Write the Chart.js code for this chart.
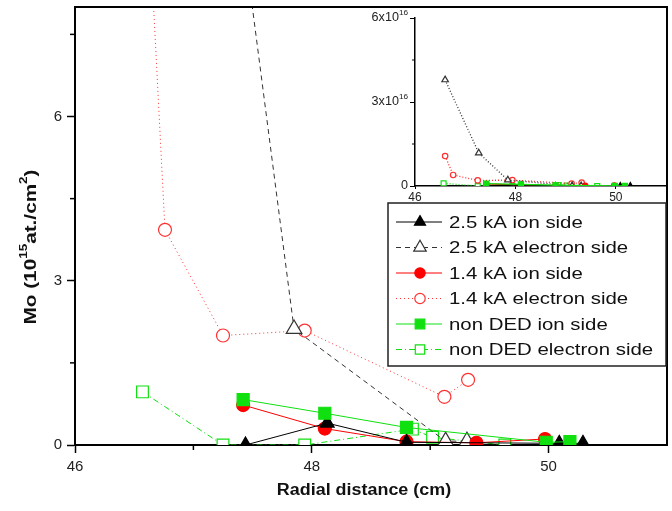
<!DOCTYPE html>
<html>
<head>
<meta charset="utf-8">
<script src="https://cdn.jsdelivr.net/npm/chart.js@4.4.1/dist/chart.umd.min.js"></script>
<style>
  html, body { margin: 0; padding: 0; background: #fff; }
  #wrap { position: relative; width: 672px; height: 511px; }
  #main { position: absolute; left: 0; top: 0; }
  #inset { position: absolute; left: 350px; top: 0; }
</style>
</head>
<body>
<div id="wrap">
  <canvas id="main" width="672" height="511"></canvas>
  <canvas id="inset" width="322" height="203"></canvas>
</div>
<script>
// axis ticks
const xTicks = [46, 48, 50];
const xMinor = [47, 49];
const yTicks = [0, 3, 6];
const yMinor = [1.5, 4.5, 7.5];
const insetXTicks = [46, 48, 50];
const insetYTicks = [0, 3, 6];
const insetYMinor = [1.5, 4.5];

const labels = ['2.5 kA ion side', '2.5 kA electron side', '1.4 kA ion side',
  '1.4 kA electron side', 'non DED ion side', 'non DED electron side'];

// values in 10^15 at./cm^2
const ion25X = [47.44, 48.13, 48.80, 50.09, 50.29];
const ion25Y = [0.0, 0.40, 0.05, 0.03, 0.03];
const el25X = [46.60, 47.27, 47.85, 49.13, 49.31];
const el25Y = [37.9, 11.8, 2.12, 0.07, 0.07];
const ion14X = [47.42, 48.11, 48.80, 49.39, 49.97];
const ion14Y = [0.73, 0.30, 0.06, 0.04, 0.11];
const el14X = [46.60, 46.76, 47.25, 47.94, 49.12, 49.32];
const el14Y = [10.7, 3.93, 2.00, 2.09, 0.88, 1.19];
const ionNX = [47.42, 48.11, 48.80, 49.98, 50.18];
const ionNY = [0.83, 0.58, 0.32, 0.05, 0.06];
const elNX = [46.57, 47.25, 47.94, 48.85, 49.02, 49.63];
const elNY = [0.97, 0.0, 0.0, 0.29, 0.14, 0.0];

const series = [
  { x: ion25X, y: ion25Y }, { x: el25X, y: el25Y },
  { x: ion14X, y: ion14Y }, { x: el14X, y: el14Y },
  { x: ionNX, y: ionNY }, { x: elNX, y: elNY }
];

const GREEN = '#10e010';
const styles = [
  { color: '#000', dash: [], ps: 'triangle', fill: '#000', r: 8, order: 1 },
  { color: '#333', dash: [5, 4], ps: 'triangle', fill: '#fff', r: 9, order: 3 },
  { color: '#ff0000', dash: [], ps: 'circle', fill: '#ff0000', r: 6.5, order: 2 },
  { color: '#ff3030', dash: [1, 3], ps: 'circle', fill: '#fff', r: 6.5, order: 4 },
  { color: GREEN, dash: [], ps: 'rect', fill: GREEN, r: 8.5, order: 0 },
  { color: GREEN, dash: [6, 3, 1, 3], ps: 'rect', fill: '#fff', r: 8.3, order: 5 }
];
const insetDash = [[], [1, 2], [], [1, 2], [], [1, 2]];

const FONT = '"Liberation Sans", Arial, sans-serif';

function makeDatasets(div, small) {
  return series.map((s, i) => {
    const st = styles[i];
    return {
      label: labels[i],
      data: s.x.map((v, j) => ({ x: v, y: s.y[j] / div })),
      showLine: true,
      borderColor: st.color,
      borderWidth: small ? 1.3 : 1,
      borderDash: small ? insetDash[i] : st.dash,
      pointStyle: st.ps,
      pointRadius: small ? st.r * 0.42 : st.r,
      pointBackgroundColor: st.fill,
      pointBorderColor: st.color,
      pointBorderWidth: 1.2,
      order: st.order
    };
  });
}

// draws text with optional superscripts, horizontally stretched by sx
function richText(ctx, parts, size, bold, sx, cx, cy, align) {
  const w = bold ? 'bold ' : '';
  let total = 0;
  parts.forEach(p => {
    ctx.font = w + (p.sup ? size * 0.65 : size) + 'px ' + FONT;
    p.w = ctx.measureText(p.t).width;
    total += p.w;
  });
  ctx.save();
  ctx.translate(cx, cy);
  ctx.scale(sx, 1);
  ctx.textBaseline = 'middle';
  ctx.textAlign = 'left';
  let x = align === 'right' ? -total : align === 'left' ? 0 : -total / 2;
  parts.forEach(p => {
    ctx.font = w + (p.sup ? size * 0.65 : size) + 'px ' + FONT;
    ctx.fillText(p.t, x, p.sup ? -size * 0.42 : 0);
    x += p.w;
  });
  ctx.restore();
}

const mainPlugin = {
  id: 'mainDeco',
  afterDraw(chart) {
    const { ctx, chartArea: a } = chart;
    const sx = chart.scales.x, sy = chart.scales.y;
    ctx.save();
    ctx.strokeStyle = '#000';
    ctx.lineWidth = 2;
    ctx.beginPath();
    ctx.moveTo(a.left, a.top);
    ctx.lineTo(a.right, a.top);
    ctx.lineTo(a.right, a.bottom);
    ctx.stroke();

    ctx.lineWidth = 1.5;
    xMinor.forEach(v => {
      const p = sx.getPixelForValue(v);
      ctx.beginPath(); ctx.moveTo(p, a.bottom); ctx.lineTo(p, a.bottom + 5); ctx.stroke();
    });
    yMinor.forEach(v => {
      const p = sy.getPixelForValue(v);
      ctx.beginPath(); ctx.moveTo(a.left, p); ctx.lineTo(a.left - 5, p); ctx.stroke();
    });

    // axis titles
    ctx.fillStyle = '#111';
    richText(ctx, [{ t: 'Radial distance (cm)' }], 16, true, 1.12, 364, 491, 'center');
    ctx.save();
    ctx.translate(31, 247);
    ctx.rotate(-Math.PI / 2);
    richText(ctx, [{ t: 'Mo (10' }, { t: '15', sup: true }, { t: 'at./cm' }, { t: '2', sup: true }, { t: ')' }],
      17, true, 1.22, 0, 0, 'center');
    ctx.restore();

    // legend
    const lx = 388, ly = 203, lw = 278, lh = 163;
    ctx.fillStyle = '#fff';
    ctx.fillRect(lx, ly, lw, lh);
    ctx.lineWidth = 1.5;
    ctx.strokeStyle = '#222';
    ctx.strokeRect(lx, ly, lw, lh);
    chart.data.datasets.forEach((ds, i) => {
      const y = 222 + i * 25.5;
      const st = styles[i];
      ctx.save();
      ctx.strokeStyle = st.color;
      ctx.lineWidth = 1;
      ctx.setLineDash(st.dash);
      ctx.beginPath(); ctx.moveTo(396, y); ctx.lineTo(442, y); ctx.stroke();
      ctx.setLineDash([]);
      ctx.fillStyle = st.fill;
      ctx.lineWidth = 1.2;
      Chart.helpers.drawPoint(ctx, { pointStyle: st.ps, radius: st.r * 0.8, borderWidth: 1.2, rotation: 0 }, 420, y);
      ctx.restore();
      ctx.fillStyle = '#111';
      richText(ctx, [{ t: ds.label }], 17, false, 1.2, 449, y + 1, 'left');
    });
    ctx.restore();
  }
};

const tickFont = { family: FONT, size: 15 };
const noPad = s => { s.paddingTop = 0; s.paddingBottom = 0; s.paddingLeft = 0; s.paddingRight = 0; };

new Chart(document.getElementById('main').getContext('2d'), {
  type: 'scatter',
  data: { datasets: makeDatasets(1, false) },
  plugins: [mainPlugin],
  options: {
    responsive: false,
    devicePixelRatio: 1,
    animation: false,
    layout: { autoPadding: false, padding: { top: 7, right: 5, left: 0, bottom: 0 } },
    plugins: { legend: { display: false }, tooltip: { enabled: false } },
    scales: {
      x: {
        type: 'linear', min: 46, max: 51,
        afterBuildTicks: s => { s.ticks = xTicks.map(v => ({ value: v })); },
        afterFit: s => { s.height = 66; noPad(s); },
        ticks: { font: tickFont, color: '#222', padding: 5 },
        grid: { drawOnChartArea: false, tickLength: 8, tickWidth: 1.5, tickColor: '#000' },
        border: { display: true, width: 2, color: '#000' }
      },
      y: {
        type: 'linear', min: 0, max: 8,
        afterBuildTicks: s => { s.ticks = yTicks.map(v => ({ value: v })); },
        afterFit: s => { s.width = 75; noPad(s); },
        ticks: { font: tickFont, color: '#222', padding: 5 },
        grid: { drawOnChartArea: false, tickLength: 8, tickWidth: 1.5, tickColor: '#000' },
        border: { display: true, width: 2, color: '#000' }
      }
    }
  }
});

// inset: full range, in units of 10^16
const insetPlugin = {
  id: 'insetDeco',
  afterDraw(chart) {
    const { ctx, chartArea: a } = chart;
    const sy = chart.scales.y;
    ctx.save();
    ctx.strokeStyle = '#000';
    ctx.lineWidth = 1;
    insetYMinor.forEach(v => {
      const p = sy.getPixelForValue(v);
      ctx.beginPath(); ctx.moveTo(a.left, p); ctx.lineTo(a.left - 3, p); ctx.stroke();
    });
    ctx.fillStyle = '#222';
    insetYTicks.forEach(v => {
      const p = sy.getPixelForValue(v);
      const parts = v === 0 ? [{ t: '0' }] : [{ t: v + 'x10' }, { t: '16', sup: true }];
      richText(ctx, parts, 12, false, 1.05, a.left - 7, p, 'right');
    });
    ctx.restore();
  }
};

new Chart(document.getElementById('inset').getContext('2d'), {
  type: 'scatter',
  data: { datasets: makeDatasets(10, true) },
  plugins: [insetPlugin],
  options: {
    responsive: false,
    devicePixelRatio: 1,
    animation: false,
    layout: { autoPadding: false, padding: { top: 18, right: 6, left: 0, bottom: 0 } },
    plugins: { legend: { display: false }, tooltip: { enabled: false } },
    scales: {
      x: {
        type: 'linear', min: 46, max: 51,
        afterBuildTicks: s => { s.ticks = insetXTicks.map(v => ({ value: v })); },
        afterFit: s => { s.height = 17; noPad(s); },
        ticks: { font: { family: FONT, size: 12 }, color: '#222', padding: 1 },
        grid: { drawOnChartArea: false, tickLength: 3, tickWidth: 1, tickColor: '#000' },
        border: { display: true, width: 1.5, color: '#000' }
      },
      y: {
        type: 'linear', min: 0, max: 6,
        afterBuildTicks: s => { s.ticks = insetYTicks.map(v => ({ value: v })); },
        afterFit: s => { s.width = 65; noPad(s); },
        ticks: { display: false },
        grid: { drawOnChartArea: false, tickLength: 5, tickWidth: 1, tickColor: '#000' },
        border: { display: true, width: 1.5, color: '#000' }
      }
    }
  }
});
</script>
</body>
</html>
